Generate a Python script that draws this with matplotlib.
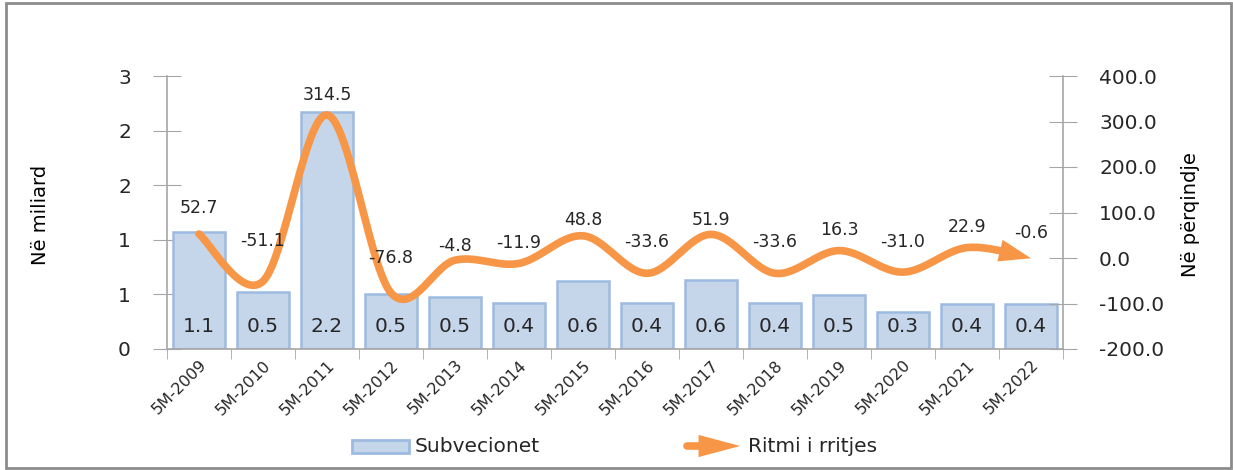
import numpy as np
import matplotlib.pyplot as plt
from matplotlib.patches import Rectangle, FancyArrowPatch

# Data
years = ['5M-2009', '5M-2010', '5M-2011', '5M-2012', '5M-2013', '5M-2014', '5M-2015',
         '5M-2016', '5M-2017', '5M-2018', '5M-2019', '5M-2020', '5M-2021', '5M-2022']
subvencionet = [1.07, 0.52, 2.17, 0.50, 0.48, 0.42, 0.62, 0.42, 0.63, 0.42, 0.49, 0.34, 0.41, 0.41]
ritmi = [52.7, -51.1, 314.5, -76.8, -4.8, -11.9, 48.8, -33.6, 51.9, -33.6, 16.3, -31.0, 22.9, -0.6]
left_ticks = [0, 0.5, 1, 1.5, 2, 2.5]
left_tick_labels = ['0', '1', '1', '2', '2', '3']
right_ticks = [-200, -100, 0, 100, 200, 300, 400]

# label offsets above the line points (pixels), style only
lbl_dy = [26, 40, 20, 35, 14, 20, 16, 31, 14, 31, 21, 30, 21, 25]

bar_face = '#c6d6ea'
bar_edge = '#9dbbe0'
orange = '#f79646'
grey = '#a6a6a6'
txt = '#262626'

W, H = 1233, 470
fig = plt.figure(figsize=(W / 100, H / 100), dpi=100)

# outer frame
fig.patches.append(Rectangle((6 / W, 2 / H), 1225 / W, 465 / H, transform=fig.transFigure,
                             fill=False, edgecolor='#8c8c8c', linewidth=2))

ax = fig.add_axes([167 / W, (H - 349) / H, 896 / W, 273 / H])
ax2 = ax.twinx()

x = np.arange(len(years))
ax.bar(x, subvencionet, width=0.82, color=bar_face, edgecolor=bar_edge, linewidth=1.8, zorder=2)
for xi, v in zip(x, subvencionet):
    ax.annotate(f'{v:.1f}', (xi, 0), xytext=(0, 22), textcoords='offset pixels',
                ha='center', va='center', fontsize=14.5, color=txt, zorder=3)

ax.set_xlim(-0.5, len(years) - 0.5)
ax.set_ylim(0, 2.5)
ax.set_yticks(left_ticks)
ax.set_yticklabels(left_tick_labels)
ax.set_xticks(x)
ax.set_xticklabels(years, rotation=45, ha='right', rotation_mode='anchor', fontsize=11.5, color=txt)
ax.set_xticks(np.arange(len(years) + 1) - 0.5, minor=True)
ax.tick_params(axis='x', which='major', length=0, pad=6)
ax.tick_params(axis='x', which='minor', length=7, color=grey, direction='out')
ax.tick_params(axis='y', length=20, direction='inout', color=grey, labelsize=14.5, pad=16, labelcolor=txt)

ax2.set_ylim(-200, 400)
ax2.set_yticks(right_ticks)
ax2.set_yticklabels([f'{t:.1f}' for t in right_ticks])
ax2.tick_params(axis='y', length=20, direction='inout', color=grey, labelsize=14.5, pad=16, labelcolor=txt)

for a in (ax, ax2):
    a.spines['top'].set_visible(False)
    for s in ('left', 'right', 'bottom'):
        a.spines[s].set_color(grey)
        a.spines[s].set_linewidth(1.2)
ax.spines['right'].set_visible(False)
ax2.spines['left'].set_visible(False)
ax2.spines['bottom'].set_visible(False)

# smoothed line (Excel-like Bezier through the points)
px = x.astype(float)
py = np.array(ritmi, dtype=float)
n = len(px)
cx, cy = [], []
t = np.linspace(0, 1, 30)
for i in range(n - 1):
    p0 = (px[max(i - 1, 0)], py[max(i - 1, 0)])
    p1 = (px[i], py[i])
    p2 = (px[i + 1], py[i + 1])
    p3 = (px[min(i + 2, n - 1)], py[min(i + 2, n - 1)])
    c1 = (p1[0] + (p2[0] - p0[0]) / 6, p1[1] + (p2[1] - p0[1]) / 6)
    c2 = (p2[0] - (p3[0] - p1[0]) / 6, p2[1] - (p3[1] - p1[1]) / 6)
    bx = (1 - t) ** 3 * p1[0] + 3 * (1 - t) ** 2 * t * c1[0] + 3 * (1 - t) * t ** 2 * c2[0] + t ** 3 * p2[0]
    by = (1 - t) ** 3 * p1[1] + 3 * (1 - t) ** 2 * t * c1[1] + 3 * (1 - t) * t ** 2 * c2[1] + t ** 3 * p2[1]
    cx.extend(bx)
    cy.extend(by)
cx = np.array(cx)
cy = np.array(cy)
cut = len(cx) - 11
ax2.plot(cx[:cut + 1], cy[:cut + 1], color=orange, linewidth=5.5, solid_capstyle='round', zorder=4)
ax2.annotate('', xy=(cx[-1], cy[-1]), xytext=(cx[cut], cy[cut]),
             arrowprops=dict(arrowstyle='simple,tail_width=0.76,head_width=1.6,head_length=2.3',
                             mutation_scale=10, color=orange, linewidth=0, shrinkA=0, shrinkB=0), zorder=4)

for xi, v, dy in zip(x, ritmi, lbl_dy):
    ax2.annotate(f'{v:.1f}', (xi, v), xytext=(0, dy), textcoords='offset pixels',
                 ha='center', va='center', fontsize=12.5, color=txt, zorder=5)

# axis titles
fig.text(40 / W, 1 - 215 / H, 'Në miliard', rotation=90, ha='center', va='center', fontsize=14, color='black')
fig.text(1190 / W, 1 - 215 / H, 'Në përqindje', rotation=90, ha='center', va='center', fontsize=14, color='black')

# legend
fig.patches.append(Rectangle((352 / W, 1 - 453 / H), 57 / W, 13 / H, transform=fig.transFigure,
                             facecolor=bar_face, edgecolor=bar_edge, linewidth=2))
fig.text(415 / W, 1 - 446 / H, 'Subvecionet', ha='left', va='center', fontsize=14.5, color=txt)
fig.add_artist(plt.Line2D([687 / W, 715 / W], [1 - 446 / H, 1 - 446 / H], transform=fig.transFigure,
                          color=orange, linewidth=5.5, solid_capstyle='round'))
fig.patches.append(FancyArrowPatch((705 / W, 1 - 446 / H), (743 / W, 1 - 446 / H), transform=fig.transFigure,
                                   arrowstyle='simple,tail_width=0.76,head_width=1.6,head_length=3.0',
                                   mutation_scale=10, color=orange, linewidth=0))
fig.text(748 / W, 1 - 446 / H, 'Ritmi i rritjes', ha='left', va='center', fontsize=14.5, color=txt)

fig.savefig('out.png', dpi=100)
